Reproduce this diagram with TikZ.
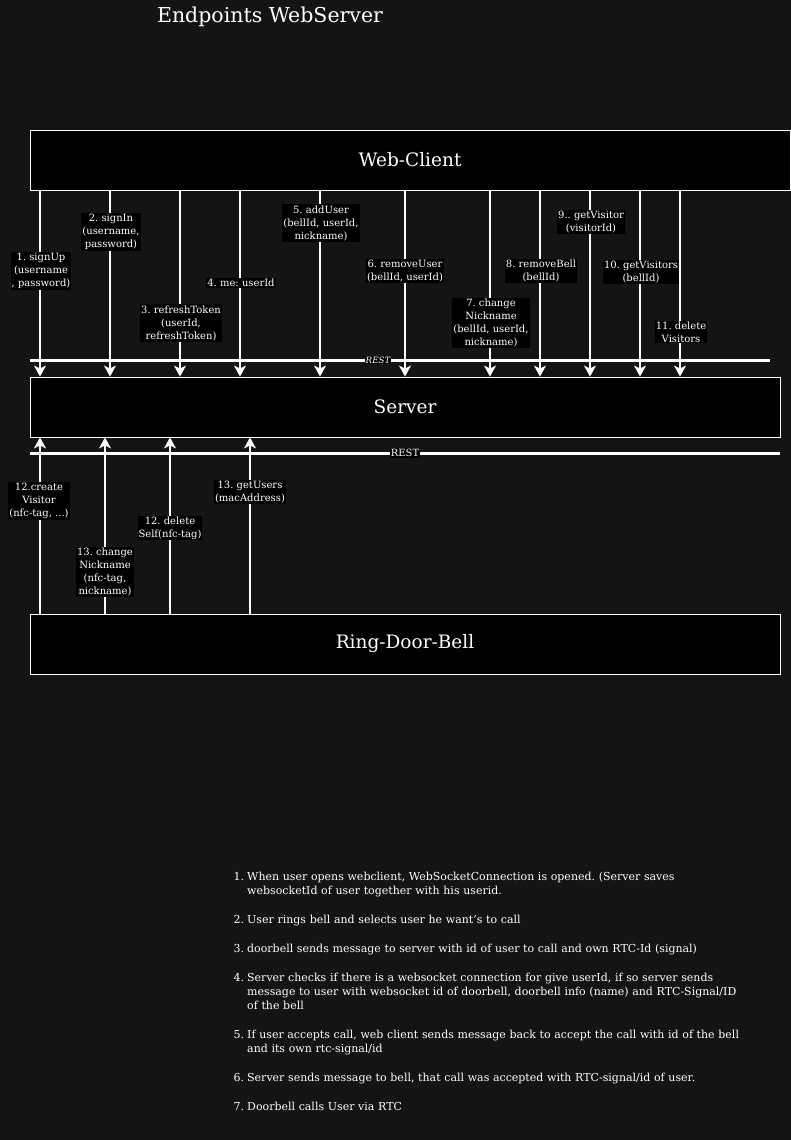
\documentclass[tikz,border=0pt]{standalone}
\usepackage{fontspec}
\setmainfont{DejaVu Serif}
\usepackage{enumitem}
\usetikzlibrary{arrows.meta,positioning,calc}
\frenchspacing

\definecolor{bgdark}{HTML}{141414}

\tikzset{
  box/.style={draw=white,fill=black,line width=0.8pt,minimum height=60pt,text=white,font=\fontsize{18.5}{22}\selectfont},
  call/.style={draw=white,line width=1.6pt,-{Stealth[width=12pt,length=11pt,inset=3pt]}},
  lbl/.style={fill=black,text=white,align=center,inner sep=1pt,font=\fontsize{10}{13}\selectfont},
  rest/.style={draw=white,line width=3pt},
  restlbl/.style={fill=black,text=white,inner sep=1pt,font=\fontsize{10}{11}\selectfont},
}

\begin{document}
\begin{tikzpicture}[x=1pt,y=-1pt]
\fill[bgdark] (0,0) rectangle (791,1140);
\useasboundingbox (0,0) rectangle (791,1140);

\node[text=white,font=\fontsize{20.5}{24}\selectfont] (title) at (270,17) {Endpoints WebServer};

% the three parties
\node[box,minimum width=760pt] (wc) at (410,160) {Web-Client};
\node[box,minimum width=750pt] (srv) at (405,407) {Server};
\node[box,minimum width=750pt] (rdb) at (405,644) {Ring-Door-Bell};

% client -> server
\coordinate (a1) at (40,0);
\coordinate (a2) at (110,0);
\coordinate (a3) at (180,0);
\coordinate (a4) at (240,0);
\coordinate (a5) at (320,0);
\coordinate (a6) at (405,0);
\coordinate (a7) at (490,0);
\coordinate (a8) at (540,0);
\coordinate (a9) at (590,0);
\coordinate (a10) at (640,0);
\coordinate (a11) at (680,0);
\draw[call] (wc.south -| a1) -- (srv.north -| a1);
\draw[call] (wc.south -| a2) -- (srv.north -| a2);
\draw[call] (wc.south -| a3) -- (srv.north -| a3);
\draw[call] (wc.south -| a4) -- (srv.north -| a4);
\draw[call] (wc.south -| a5) -- (srv.north -| a5);
\draw[call] (wc.south -| a6) -- (srv.north -| a6);
\draw[call] (wc.south -| a7) -- (srv.north -| a7);
\draw[call] (wc.south -| a8) -- (srv.north -| a8);
\draw[call] (wc.south -| a9) -- (srv.north -| a9);
\draw[call] (wc.south -| a10) -- (srv.north -| a10);
\draw[call] (wc.south -| a11) -- (srv.north -| a11);

\coordinate (restAw) at (30,360);
\coordinate (restAe) at (770,360);
\draw[rest] (restAw) -- (restAe) node[restlbl,pos=0.4703,font=\fontsize{8.7}{9}\selectfont\itshape] (restA) {REST};

\node[lbl] (signUp) at (41,271) {1. signUp\\(username\\, password)};
\node[lbl] (signIn) at (111,232) {2. signIn\\(username,\\password)};
\node[lbl] (refresh) at (181,323) {3. refreshToken\\(userId,\\refreshToken)};
\node[lbl] (me) at (241,283) {4. me: userId};
\node[lbl] (addUser) at (321,223) {5. addUser\\(bellId, userId,\\nickname)};
\node[lbl] (removeUser) at (405,271) {6. removeUser\\(bellId, userId)};
\node[lbl] (changeNick) at (491,323) {7. change\\Nickname\\(bellId, userId,\\nickname)};
\node[lbl] (removeBell) at (541,271) {8. removeBell\\(bellId)};
\node[lbl] (getVisitor) at (591,222) {9.. getVisitor\\(visitorId)};
\node[lbl] (getVisitors) at (641,272) {10. getVisitors\\(bellId)};
\node[lbl] (delVisitors) at (681,332) {11. delete\\Visitors};

% door bell -> server
\coordinate (b1) at (40,0);
\coordinate (b2) at (105,0);
\coordinate (b3) at (170,0);
\coordinate (b4) at (250,0);
\draw[call] (rdb.north -| b1) -- (srv.south -| b1);
\draw[call] (rdb.north -| b2) -- (srv.south -| b2);
\draw[call] (rdb.north -| b3) -- (srv.south -| b3);
\draw[call] (rdb.north -| b4) -- (srv.south -| b4);

\coordinate (restBw) at (30,453);
\coordinate (restBe) at (780,453);
\draw[rest] (restBw) -- (restBe) node[restlbl,pos=0.5] (restB) {REST};

\node[lbl] (createVisitor) at (39,501) {12.create\\Visitor\\(nfc-tag, ...)};
\node[lbl] (changeNickBell) at (105,572) {13. change\\Nickname\\(nfc-tag,\\nickname)};
\node[lbl] (deleteSelf) at (170,528) {12. delete\\Self(nfc-tag)};
\node[lbl] (getUsers) at (250,492) {13. getUsers\\(macAddress)};

% call flow notes
\node[anchor=north west,inner sep=0pt,text width=540pt,text=white,font=\fontsize{11}{14}\selectfont] (notes) at (235,866) {%
\begin{enumerate}[leftmargin=12pt,labelsep=3pt,itemsep=15pt,topsep=0pt,parsep=0pt,partopsep=0pt]
\item When user opens webclient, WebSocketConnection is opened. (Server saves\newline websocketId of user together with his userid.
\item User rings bell and selects user he want's to call
\item doorbell sends message to server with id of user to call and own RTC-Id (signal)
\item Server checks if there is a websocket connection for give userId, if so server sends\newline message to user with websocket id of doorbell, doorbell info (name) and RTC-Signal/ID\newline of the bell
\item If user accepts call, web client sends message back to accept the call with id of the bell\newline and its own rtc-signal/id
\item Server sends message to bell, that call was accepted with RTC-signal/id of user.
\item Doorbell calls User via RTC
\end{enumerate}};
\end{tikzpicture}
\end{document}
